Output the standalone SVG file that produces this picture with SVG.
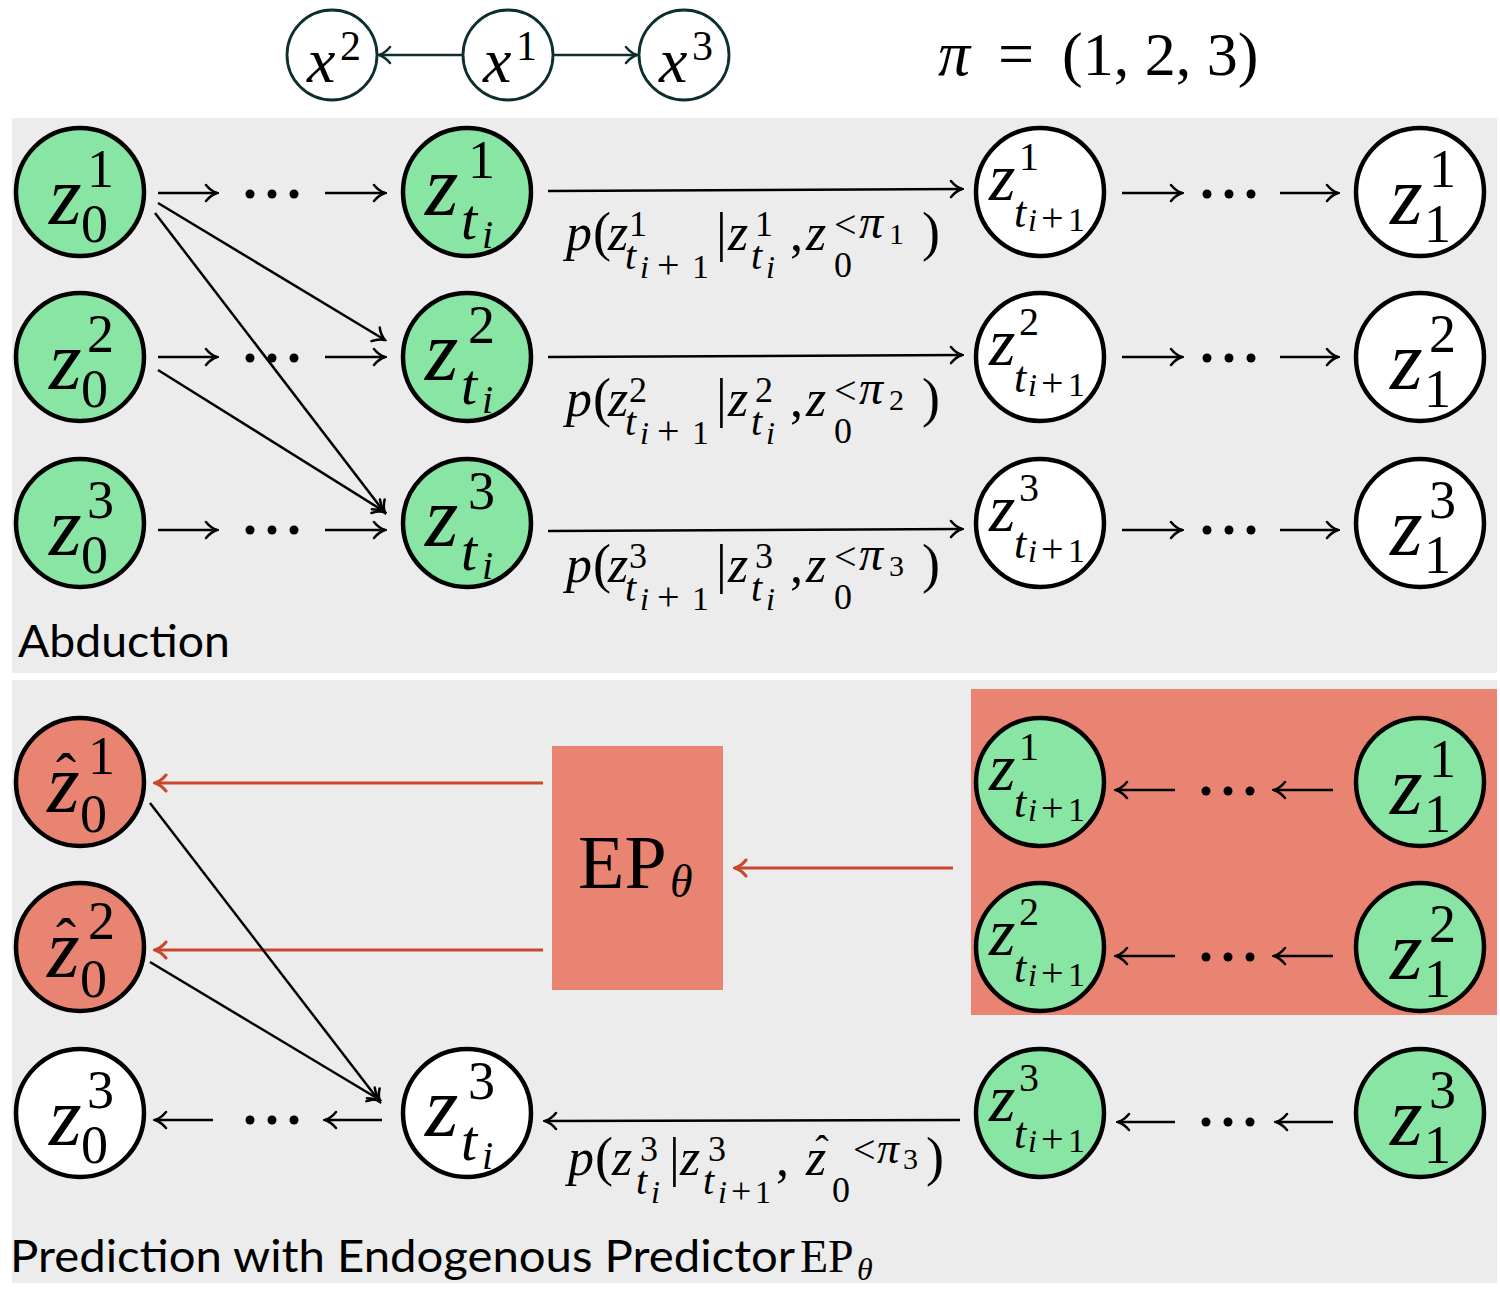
<svg xmlns="http://www.w3.org/2000/svg" width="1500" height="1300" viewBox="0 0 1500 1300">
<defs>
<style>
.n{stroke:#000;stroke-width:4.5}
.g{fill:#88e5a3}.w{fill:#fff}.r{fill:#e98472}
.mi{font-family:"Liberation Serif","DejaVu Serif",serif;font-style:italic}
.mr{font-family:"Liberation Serif","DejaVu Serif",serif;font-style:normal}
.lbl{font-family:Lato,"Open Sans","Liberation Sans",sans-serif;font-size:44px}
.ln{stroke:#000;stroke-width:2.5;fill:none;marker-end:url(#ah)}
.lt{stroke:#0f2e2e;stroke-width:2.5;fill:none;marker-end:url(#aht)}
.rl{stroke:#c8472d;stroke-width:3;fill:none;marker-end:url(#ahr)}
.tn{stroke:#0f2e2e;stroke-width:2.8;fill:#fff}
.dot{fill:#000}
</style>
<marker id="ah" viewBox="-14 -10 16 20" refX="0" refY="0" markerWidth="16" markerHeight="20" markerUnits="userSpaceOnUse" orient="auto">
<path d="M-11,-8 C-7,-3 -3,-1 0,0 C-3,1 -7,3 -11,8" fill="none" stroke="#000" stroke-width="2.5" stroke-linecap="round"/>
</marker>
<marker id="aht" viewBox="-14 -10 16 20" refX="0" refY="0" markerWidth="16" markerHeight="20" markerUnits="userSpaceOnUse" orient="auto">
<path d="M-11,-8 C-7,-3 -3,-1 0,0 C-3,1 -7,3 -11,8" fill="none" stroke="#0f2e2e" stroke-width="2.5" stroke-linecap="round"/>
</marker>
<marker id="ahr" viewBox="-14 -10 16 20" refX="0" refY="0" markerWidth="16" markerHeight="20" markerUnits="userSpaceOnUse" orient="auto">
<path d="M-11,-8 C-7,-3 -3,-1 0,0 C-3,1 -7,3 -11,8" fill="none" stroke="#c8472d" stroke-width="3" stroke-linecap="round"/>
</marker>
</defs>
<rect width="1500" height="1300" fill="#fff"/>

<g id="panels">
<rect x="12" y="118" width="1485" height="555" fill="#ececec"/>
<rect x="12" y="680" width="1485" height="603" fill="#ececec"/>
<rect x="971" y="689" width="526" height="326" fill="#e98472"/>
</g>

<!-- top causal graph -->
<g id="x2" transform="translate(332,55)"><circle r="45" class="tn"/>
<text><tspan class="mi" x="-25" y="27" font-size="64">x</tspan><tspan class="mr" x="8" y="5" font-size="42">2</tspan></text></g>
<g id="x1" transform="translate(508,55)"><circle r="45" class="tn"/>
<text><tspan class="mi" x="-25" y="27" font-size="64">x</tspan><tspan class="mr" x="8" y="5" font-size="42">1</tspan></text></g>
<g id="x3" transform="translate(684,55)"><circle r="45" class="tn"/>
<text><tspan class="mi" x="-25" y="27" font-size="64">x</tspan><tspan class="mr" x="8" y="5" font-size="42">3</tspan></text></g>
<text id="perm"><tspan class="mi" x="938" y="75" font-size="64">π</tspan><tspan class="mr" x="998" y="75" font-size="64">=</tspan><tspan class="mr" x="1062" y="75" font-size="62">(1, 2, 3)</tspan></text>

<g id="connectors">
<line class="lt" x1="462" y1="55" x2="379" y2="55"/>
<line class="lt" x1="554" y1="55" x2="637" y2="55"/>

<line class="ln" x1="158" y1="193" x2="217" y2="193"/>
<line class="ln" x1="325" y1="193" x2="385" y2="193"/>
<line class="ln" x1="548" y1="191" x2="962" y2="189"/>
<line class="ln" x1="1122" y1="193" x2="1182" y2="193"/>
<line class="ln" x1="1280" y1="193" x2="1338" y2="193"/>

<line class="ln" x1="158" y1="357" x2="217" y2="357"/>
<line class="ln" x1="325" y1="357" x2="385" y2="357"/>
<line class="ln" x1="548" y1="357" x2="962" y2="355"/>
<line class="ln" x1="1122" y1="357" x2="1182" y2="357"/>
<line class="ln" x1="1280" y1="357" x2="1338" y2="357"/>

<line class="ln" x1="158" y1="530" x2="217" y2="530"/>
<line class="ln" x1="325" y1="530" x2="385" y2="530"/>
<line class="ln" x1="548" y1="531" x2="962" y2="529"/>
<line class="ln" x1="1122" y1="530" x2="1182" y2="530"/>
<line class="ln" x1="1280" y1="530" x2="1338" y2="530"/>

<line class="ln" x1="158" y1="203" x2="385" y2="340"/>
<line class="ln" x1="155" y1="213" x2="385" y2="513"/>
<line class="ln" x1="158" y1="370" x2="385" y2="512"/>

<line class="rl" x1="543" y1="783" x2="155" y2="783"/>
<line class="rl" x1="543" y1="950" x2="155" y2="950"/>
<line class="rl" x1="953" y1="868" x2="735" y2="868"/>
<line class="ln" x1="150" y1="803" x2="380" y2="1102"/>
<line class="ln" x1="150" y1="962" x2="380" y2="1100"/>

<line class="ln" x1="213" y1="1120" x2="155" y2="1120"/>
<line class="ln" x1="382" y1="1120" x2="325" y2="1120"/>
<line class="ln" x1="960" y1="1120" x2="545" y2="1121"/>
<line class="ln" x1="1175" y1="1122" x2="1118" y2="1122"/>
<line class="ln" x1="1333" y1="1122" x2="1276" y2="1122"/>

<line class="ln" x1="1175" y1="790" x2="1116" y2="790"/>
<line class="ln" x1="1333" y1="790" x2="1274" y2="790"/>
<line class="ln" x1="1175" y1="956" x2="1116" y2="956"/>
<line class="ln" x1="1333" y1="956" x2="1274" y2="956"/>
</g>

<g id="dots" class="dot">
<circle cx="250" cy="194" r="4.5"/><circle cx="272" cy="194" r="4.5"/><circle cx="294" cy="194" r="4.5"/>
<circle cx="1207" cy="194" r="4.5"/><circle cx="1229" cy="194" r="4.5"/><circle cx="1251" cy="194" r="4.5"/>
<circle cx="250" cy="358" r="4.5"/><circle cx="272" cy="358" r="4.5"/><circle cx="294" cy="358" r="4.5"/>
<circle cx="1207" cy="358" r="4.5"/><circle cx="1229" cy="358" r="4.5"/><circle cx="1251" cy="358" r="4.5"/>
<circle cx="250" cy="530" r="4.5"/><circle cx="272" cy="530" r="4.5"/><circle cx="294" cy="530" r="4.5"/>
<circle cx="1207" cy="530" r="4.5"/><circle cx="1229" cy="530" r="4.5"/><circle cx="1251" cy="530" r="4.5"/>
<circle cx="250" cy="1120" r="4.5"/><circle cx="272" cy="1120" r="4.5"/><circle cx="294" cy="1120" r="4.5"/>
<circle cx="1206" cy="1122" r="4.5"/><circle cx="1228" cy="1122" r="4.5"/><circle cx="1250" cy="1122" r="4.5"/>
<circle cx="1206" cy="791" r="4.5"/><circle cx="1228" cy="791" r="4.5"/><circle cx="1250" cy="791" r="4.5"/>
<circle cx="1206" cy="957" r="4.5"/><circle cx="1228" cy="957" r="4.5"/><circle cx="1250" cy="957" r="4.5"/>
</g>

<!-- Abduction nodes -->
<g id="a-z0-1" transform="translate(80,192)"><circle r="64" class="n g"/>
<text><tspan class="mi" x="-31" y="32" font-size="84">z</tspan><tspan class="mr" x="7" y="-5" font-size="54">1</tspan><tspan class="mr" x="1" y="50" font-size="54">0</tspan></text></g>
<g id="a-z0-2" transform="translate(80,357)"><circle r="64" class="n g"/>
<text><tspan class="mi" x="-31" y="32" font-size="84">z</tspan><tspan class="mr" x="7" y="-5" font-size="54">2</tspan><tspan class="mr" x="1" y="50" font-size="54">0</tspan></text></g>
<g id="a-z0-3" transform="translate(80,523)"><circle r="64" class="n g"/>
<text><tspan class="mi" x="-31" y="32" font-size="84">z</tspan><tspan class="mr" x="7" y="-5" font-size="54">3</tspan><tspan class="mr" x="1" y="50" font-size="54">0</tspan></text></g>

<g id="a-zti-1" transform="translate(467,192)"><circle r="64" class="n g"/>
<text><tspan class="mi" x="-42" y="23" font-size="86">z</tspan><tspan class="mr" x="1" y="-14" font-size="54">1</tspan><tspan class="mi" x="-6" y="47" font-size="58">t</tspan><tspan class="mi" x="15" y="56" font-size="40">i</tspan></text></g>
<g id="a-zti-2" transform="translate(467,357)"><circle r="64" class="n g"/>
<text><tspan class="mi" x="-42" y="23" font-size="86">z</tspan><tspan class="mr" x="1" y="-14" font-size="54">2</tspan><tspan class="mi" x="-6" y="47" font-size="58">t</tspan><tspan class="mi" x="15" y="56" font-size="40">i</tspan></text></g>
<g id="a-zti-3" transform="translate(467,523)"><circle r="64" class="n g"/>
<text><tspan class="mi" x="-42" y="23" font-size="86">z</tspan><tspan class="mr" x="1" y="-14" font-size="54">3</tspan><tspan class="mi" x="-6" y="47" font-size="58">t</tspan><tspan class="mi" x="15" y="56" font-size="40">i</tspan></text></g>

<g id="a-zti1-1" transform="translate(1040,192)"><circle r="64" class="n w"/>
<text><tspan class="mi" x="-51" y="8" font-size="68">z</tspan><tspan class="mr" x="-21" y="-22" font-size="40">1</tspan><tspan class="mi" x="-26" y="35" font-size="44">t</tspan><tspan class="mi" x="-12" y="39" font-size="32">i</tspan><tspan class="mr" x="1" y="39" font-size="40">+</tspan><tspan class="mr" x="28" y="39" font-size="34">1</tspan></text></g>
<g id="a-zti1-2" transform="translate(1040,357)"><circle r="64" class="n w"/>
<text><tspan class="mi" x="-51" y="8" font-size="68">z</tspan><tspan class="mr" x="-21" y="-22" font-size="40">2</tspan><tspan class="mi" x="-26" y="35" font-size="44">t</tspan><tspan class="mi" x="-12" y="39" font-size="32">i</tspan><tspan class="mr" x="1" y="39" font-size="40">+</tspan><tspan class="mr" x="28" y="39" font-size="34">1</tspan></text></g>
<g id="a-zti1-3" transform="translate(1040,523)"><circle r="64" class="n w"/>
<text><tspan class="mi" x="-51" y="8" font-size="68">z</tspan><tspan class="mr" x="-21" y="-22" font-size="40">3</tspan><tspan class="mi" x="-26" y="35" font-size="44">t</tspan><tspan class="mi" x="-12" y="39" font-size="32">i</tspan><tspan class="mr" x="1" y="39" font-size="40">+</tspan><tspan class="mr" x="28" y="39" font-size="34">1</tspan></text></g>

<g id="a-z1-1" transform="translate(1420,192)"><circle r="64" class="n w"/>
<text><tspan class="mi" x="-30" y="32" font-size="84">z</tspan><tspan class="mr" x="9" y="-5" font-size="54">1</tspan><tspan class="mr" x="4" y="50" font-size="54">1</tspan></text></g>
<g id="a-z1-2" transform="translate(1420,357)"><circle r="64" class="n w"/>
<text><tspan class="mi" x="-30" y="32" font-size="84">z</tspan><tspan class="mr" x="9" y="-5" font-size="54">2</tspan><tspan class="mr" x="4" y="50" font-size="54">1</tspan></text></g>
<g id="a-z1-3" transform="translate(1420,523)"><circle r="64" class="n w"/>
<text><tspan class="mi" x="-30" y="32" font-size="84">z</tspan><tspan class="mr" x="9" y="-5" font-size="54">3</tspan><tspan class="mr" x="4" y="50" font-size="54">1</tspan></text></g>

<!-- Abduction edge labels -->
<g id="lab-a1" transform="translate(0,250)"><text><tspan class="mi" x="566" y="0" font-size="52">p</tspan><tspan class="mr" x="593" y="0" font-size="54">(</tspan><tspan class="mi" x="608" y="0" font-size="52">z</tspan><tspan class="mr" x="629" y="-14" font-size="36">1</tspan><tspan class="mi" x="625" y="19" font-size="40">t</tspan><tspan class="mi" x="640" y="28" font-size="32">i</tspan><tspan class="mr" x="657" y="28" font-size="40">+</tspan><tspan class="mr" x="692" y="28" font-size="34">1</tspan><tspan class="mr" x="716" y="0" font-size="54">|</tspan><tspan class="mi" x="728" y="0" font-size="52">z</tspan><tspan class="mr" x="755" y="-14" font-size="36">1</tspan><tspan class="mi" x="751" y="19" font-size="40">t</tspan><tspan class="mi" x="766" y="28" font-size="32">i</tspan><tspan class="mr" x="790" y="0" font-size="52">,</tspan><tspan class="mi" x="806" y="0" font-size="52">z</tspan><tspan class="mr" x="834" y="27" font-size="36">0</tspan><tspan class="mr" x="834" y="-12" font-size="40">&lt;</tspan><tspan class="mi" x="859" y="-12" font-size="48">π</tspan><tspan class="mr" x="889" y="-6" font-size="30">1</tspan><tspan class="mr" x="922" y="0" font-size="54">)</tspan></text></g>
<g id="lab-a2" transform="translate(0,416)"><text><tspan class="mi" x="566" y="0" font-size="52">p</tspan><tspan class="mr" x="593" y="0" font-size="54">(</tspan><tspan class="mi" x="608" y="0" font-size="52">z</tspan><tspan class="mr" x="629" y="-14" font-size="36">2</tspan><tspan class="mi" x="625" y="19" font-size="40">t</tspan><tspan class="mi" x="640" y="28" font-size="32">i</tspan><tspan class="mr" x="657" y="28" font-size="40">+</tspan><tspan class="mr" x="692" y="28" font-size="34">1</tspan><tspan class="mr" x="716" y="0" font-size="54">|</tspan><tspan class="mi" x="728" y="0" font-size="52">z</tspan><tspan class="mr" x="755" y="-14" font-size="36">2</tspan><tspan class="mi" x="751" y="19" font-size="40">t</tspan><tspan class="mi" x="766" y="28" font-size="32">i</tspan><tspan class="mr" x="790" y="0" font-size="52">,</tspan><tspan class="mi" x="806" y="0" font-size="52">z</tspan><tspan class="mr" x="834" y="27" font-size="36">0</tspan><tspan class="mr" x="834" y="-12" font-size="40">&lt;</tspan><tspan class="mi" x="859" y="-12" font-size="48">π</tspan><tspan class="mr" x="889" y="-6" font-size="30">2</tspan><tspan class="mr" x="922" y="0" font-size="54">)</tspan></text></g>
<g id="lab-a3" transform="translate(0,582)"><text><tspan class="mi" x="566" y="0" font-size="52">p</tspan><tspan class="mr" x="593" y="0" font-size="54">(</tspan><tspan class="mi" x="608" y="0" font-size="52">z</tspan><tspan class="mr" x="629" y="-14" font-size="36">3</tspan><tspan class="mi" x="625" y="19" font-size="40">t</tspan><tspan class="mi" x="640" y="28" font-size="32">i</tspan><tspan class="mr" x="657" y="28" font-size="40">+</tspan><tspan class="mr" x="692" y="28" font-size="34">1</tspan><tspan class="mr" x="716" y="0" font-size="54">|</tspan><tspan class="mi" x="728" y="0" font-size="52">z</tspan><tspan class="mr" x="755" y="-14" font-size="36">3</tspan><tspan class="mi" x="751" y="19" font-size="40">t</tspan><tspan class="mi" x="766" y="28" font-size="32">i</tspan><tspan class="mr" x="790" y="0" font-size="52">,</tspan><tspan class="mi" x="806" y="0" font-size="52">z</tspan><tspan class="mr" x="834" y="27" font-size="36">0</tspan><tspan class="mr" x="834" y="-12" font-size="40">&lt;</tspan><tspan class="mi" x="859" y="-12" font-size="48">π</tspan><tspan class="mr" x="889" y="-6" font-size="30">3</tspan><tspan class="mr" x="922" y="0" font-size="54">)</tspan></text></g>

<text class="lbl" x="18" y="657" textLength="212" lengthAdjust="spacingAndGlyphs">Abduction</text>

<!-- Prediction -->
<g id="ep">
<rect x="552" y="746" width="171" height="244" fill="#e98472"/>
<text><tspan class="mr" x="578" y="888" font-size="76">EP</tspan><tspan class="mi" x="670" y="897" font-size="46">θ</tspan></text>
</g>

<g id="p-zhat0-1" transform="translate(80,782)"><circle r="64" class="n r"/>
<text><tspan class="mi" x="-33" y="30" font-size="84">z</tspan><tspan class="mr" x="8" y="-8" font-size="54">1</tspan><tspan class="mr" x="0" y="50" font-size="54">0</tspan><tspan class="mr" x="-14" y="12" font-size="60" text-anchor="middle">ˆ</tspan></text></g>
<g id="p-zhat0-2" transform="translate(80,947)"><circle r="64" class="n r"/>
<text><tspan class="mi" x="-33" y="30" font-size="84">z</tspan><tspan class="mr" x="8" y="-8" font-size="54">2</tspan><tspan class="mr" x="0" y="50" font-size="54">0</tspan><tspan class="mr" x="-14" y="12" font-size="60" text-anchor="middle">ˆ</tspan></text></g>
<g id="p-z0-3" transform="translate(80,1113)"><circle r="64" class="n w"/>
<text><tspan class="mi" x="-31" y="32" font-size="84">z</tspan><tspan class="mr" x="7" y="-5" font-size="54">3</tspan><tspan class="mr" x="1" y="50" font-size="54">0</tspan></text></g>
<g id="p-zti-3" transform="translate(467,1113)"><circle r="64" class="n w"/>
<text><tspan class="mi" x="-42" y="23" font-size="86">z</tspan><tspan class="mr" x="1" y="-14" font-size="54">3</tspan><tspan class="mi" x="-6" y="47" font-size="58">t</tspan><tspan class="mi" x="15" y="56" font-size="40">i</tspan></text></g>

<g id="p-zti1-1" transform="translate(1040,782)"><circle r="64" class="n g"/>
<text><tspan class="mi" x="-51" y="8" font-size="68">z</tspan><tspan class="mr" x="-21" y="-22" font-size="40">1</tspan><tspan class="mi" x="-26" y="35" font-size="44">t</tspan><tspan class="mi" x="-12" y="39" font-size="32">i</tspan><tspan class="mr" x="1" y="39" font-size="40">+</tspan><tspan class="mr" x="28" y="39" font-size="34">1</tspan></text></g>
<g id="p-zti1-2" transform="translate(1040,947)"><circle r="64" class="n g"/>
<text><tspan class="mi" x="-51" y="8" font-size="68">z</tspan><tspan class="mr" x="-21" y="-22" font-size="40">2</tspan><tspan class="mi" x="-26" y="35" font-size="44">t</tspan><tspan class="mi" x="-12" y="39" font-size="32">i</tspan><tspan class="mr" x="1" y="39" font-size="40">+</tspan><tspan class="mr" x="28" y="39" font-size="34">1</tspan></text></g>
<g id="p-zti1-3" transform="translate(1040,1113)"><circle r="64" class="n g"/>
<text><tspan class="mi" x="-51" y="8" font-size="68">z</tspan><tspan class="mr" x="-21" y="-22" font-size="40">3</tspan><tspan class="mi" x="-26" y="35" font-size="44">t</tspan><tspan class="mi" x="-12" y="39" font-size="32">i</tspan><tspan class="mr" x="1" y="39" font-size="40">+</tspan><tspan class="mr" x="28" y="39" font-size="34">1</tspan></text></g>

<g id="p-z1-1" transform="translate(1420,782)"><circle r="64" class="n g"/>
<text><tspan class="mi" x="-30" y="32" font-size="84">z</tspan><tspan class="mr" x="9" y="-5" font-size="54">1</tspan><tspan class="mr" x="4" y="50" font-size="54">1</tspan></text></g>
<g id="p-z1-2" transform="translate(1420,947)"><circle r="64" class="n g"/>
<text><tspan class="mi" x="-30" y="32" font-size="84">z</tspan><tspan class="mr" x="9" y="-5" font-size="54">2</tspan><tspan class="mr" x="4" y="50" font-size="54">1</tspan></text></g>
<g id="p-z1-3" transform="translate(1420,1113)"><circle r="64" class="n g"/>
<text><tspan class="mi" x="-30" y="32" font-size="84">z</tspan><tspan class="mr" x="9" y="-5" font-size="54">3</tspan><tspan class="mr" x="4" y="50" font-size="54">1</tspan></text></g>

<g id="lab-p3" transform="translate(0,1175)"><text><tspan class="mi" x="568" y="0" font-size="52">p</tspan><tspan class="mr" x="595" y="0" font-size="54">(</tspan><tspan class="mi" x="612" y="0" font-size="52">z</tspan><tspan class="mr" x="640" y="-14" font-size="36">3</tspan><tspan class="mi" x="636" y="19" font-size="40">t</tspan><tspan class="mi" x="651" y="28" font-size="32">i</tspan><tspan class="mr" x="669" y="0" font-size="54">|</tspan><tspan class="mi" x="680" y="0" font-size="52">z</tspan><tspan class="mr" x="708" y="-14" font-size="36">3</tspan><tspan class="mi" x="703" y="19" font-size="40">t</tspan><tspan class="mi" x="718" y="28" font-size="32">i</tspan><tspan class="mr" x="731" y="28" font-size="36">+</tspan><tspan class="mr" x="755" y="28" font-size="32">1</tspan><tspan class="mr" x="776" y="0" font-size="52">,</tspan><tspan class="mi" x="806" y="0" font-size="52">z</tspan><tspan class="mr" x="832" y="27" font-size="36">0</tspan><tspan class="mr" x="853" y="-12" font-size="40">&lt;</tspan><tspan class="mi" x="877" y="-12" font-size="44">π</tspan><tspan class="mr" x="903" y="-6" font-size="30">3</tspan><tspan class="mr" x="926" y="0" font-size="54">)</tspan><tspan class="mr" x="822" y="-12" font-size="40" text-anchor="middle">ˆ</tspan></text></g>

<text><tspan class="lbl" x="10" y="1272" textLength="785" lengthAdjust="spacingAndGlyphs">Prediction with Endogenous Predictor</tspan><tspan class="mr" x="800" y="1272" font-size="46">EP</tspan><tspan class="mi" x="857" y="1280" font-size="32">θ</tspan></text>
</svg>
